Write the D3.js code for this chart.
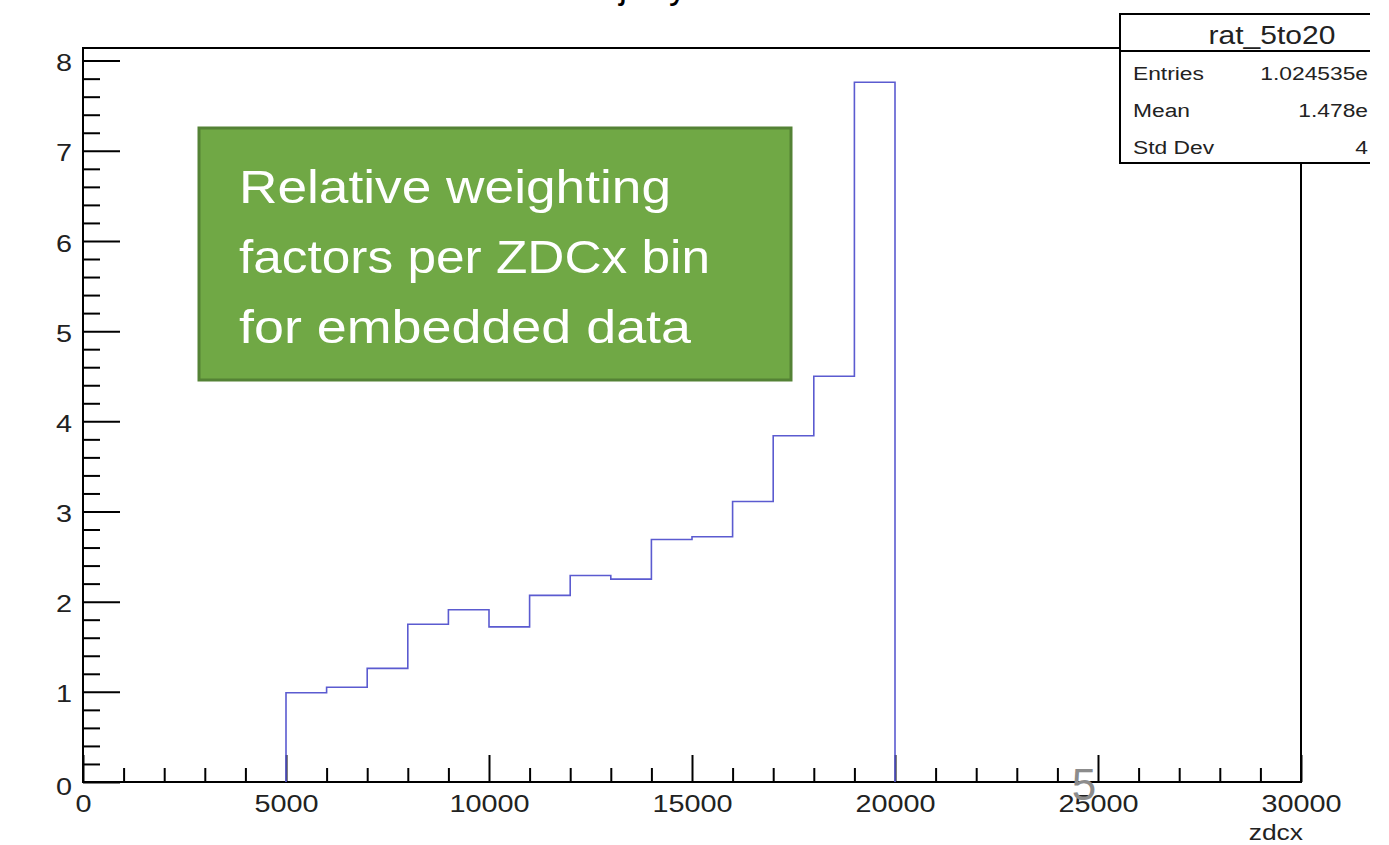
<!DOCTYPE html>
<html>
<head>
<meta charset="utf-8">
<script src="https://cdn.jsdelivr.net/npm/d3@7"></script>
<style>
  body { margin: 0; background: #fff; }
  text { font-family: "Liberation Sans", Helvetica, Arial, sans-serif; }
</style>
</head>
<body>
<svg id="chart" width="1389" height="845"></svg>
<script>
// histogram rat_5to20, bin width 1000 starting at 5000
const binLow = 5000, binWidth = 1000
const binValues = [0.99, 1.05, 1.26, 1.75, 1.91, 1.72, 2.07, 2.29, 2.25, 2.69, 2.72, 3.11, 3.84, 4.50, 7.76]
const xMajorTicks = [0, 5000, 10000, 15000, 20000, 25000, 30000]
const yMajorTicks = [0, 1, 2, 3, 4, 5, 6, 7, 8]
const statLabels = ["Entries", "Mean", "Std Dev"]
const statValues = ["1.024535e", "1.478e", "4"]
const noteLines = ["Relative weighting", "factors per ZDCx bin", "for embedded data"]
const noteWidths = [432, 471, 452]

const svg = d3.select("#chart")
const padL = 83, padR = 1301, padT = 48, padB = 782
const sx = 1.2  // the ROOT canvas is stretched sideways in the slide

// widen text around its own x anchor
function stretch(sel, k) {
  sel.attr("transform", function() {
    const ax = +this.getAttribute("x") || 0
    return `translate(${ax * (1 - k)},0) scale(${k},1)`
  })
}

const x = d3.scaleLinear().domain([0, 30000]).range([padL, padR])
const y = d3.scaleLinear().domain([0, 8.14]).range([padB, padT])

// cut-off title descenders at the very top
svg.append("text").attr("x", 619).attr("y", -2).attr("font-size", 36).text("j")
svg.append("text").attr("x", 669).attr("y", -2).attr("font-size", 36).text("y")

// frame
svg.append("rect")
    .attr("x", padL).attr("y", padT)
    .attr("width", padR - padL).attr("height", padB - padT)
    .attr("fill", "none").attr("stroke", "#000").attr("stroke-width", 2)

// minor ticks
const xMinor = d3.range(0, 30001, 1000).filter(d => d % 5000)
const yMinor = d3.range(0, 8.01, 0.2).filter(d => Math.abs(d - Math.round(d)) > 0.01)

svg.append("g").attr("transform", `translate(0,${padB})`)
    .call(d3.axisBottom(x).tickValues(xMinor).tickSize(-14).tickFormat(""))
    .call(g => g.select(".domain").remove())
    .call(g => g.selectAll("line").attr("stroke-width", 2))
svg.append("g").attr("transform", `translate(0,${padB})`)
    .call(d3.axisBottom(x).tickValues(xMajorTicks).tickSize(-27).tickPadding(13).tickFormat(d3.format("d")))
    .call(g => g.select(".domain").remove())
    .call(g => g.selectAll("line").attr("stroke-width", 2))
    .call(g => g.selectAll("text").attr("font-size", 24).attr("fill", "#222")
        .attr("font-family", "'Liberation Sans', sans-serif").call(stretch, sx))

svg.append("g").attr("transform", `translate(${padL},0)`)
    .call(d3.axisLeft(y).tickValues(yMinor).tickSize(-17).tickFormat(""))
    .call(g => g.select(".domain").remove())
    .call(g => g.selectAll("line").attr("stroke-width", 2))
svg.append("g").attr("transform", `translate(${padL},0)`)
    .call(d3.axisLeft(y).tickValues(yMajorTicks).tickSize(-37).tickPadding(11).tickFormat(d3.format("d")))
    .call(g => g.select(".domain").remove())
    .call(g => g.selectAll("line").attr("stroke-width", 2))
    .call(g => g.selectAll("text").attr("font-size", 24).attr("fill", "#222").attr("dy", "0.42em")
        .attr("font-family", "'Liberation Sans', sans-serif").call(stretch, sx))
    .call(g => g.selectAll(".tick").filter(d => d === 0).select("text").attr("dy", "0.5em"))

// histogram outline
const pts = [[binLow, 0]]
binValues.forEach((v, i) => pts.push([binLow + i * binWidth, v]))
pts.push([binLow + binValues.length * binWidth, binValues[binValues.length - 1]])
pts.push([binLow + binValues.length * binWidth, 0])

svg.append("path")
    .attr("d", d3.line().x(d => x(d[0])).y(d => y(d[1])).curve(d3.curveStepAfter)(pts))
    .attr("fill", "none").attr("stroke", "#5b5bd0").attr("stroke-width", 1.6)

// axis title
svg.append("text").attr("x", 1303).attr("y", 840).attr("text-anchor", "end")
    .attr("font-size", 22).attr("fill", "#222").text("zdcx").call(stretch, sx)

// stats box
const sb = svg.append("g")
sb.append("rect").attr("x", 1120).attr("y", 14).attr("width", 300).attr("height", 149)
    .attr("fill", "#fff").attr("stroke", "#000").attr("stroke-width", 2)
sb.append("line").attr("x1", 1120).attr("x2", 1389).attr("y1", 51).attr("y2", 51)
    .attr("stroke", "#000").attr("stroke-width", 2)
sb.append("text").attr("x", 1272).attr("y", 44).attr("text-anchor", "middle")
    .attr("font-size", 25).attr("fill", "#222").text("rat_5to20").call(stretch, sx)
statLabels.forEach((s, i) => {
  sb.append("text").attr("x", 1133).attr("y", 80 + i * 37).attr("font-size", 19)
      .attr("fill", "#222").text(s).call(stretch, sx)
  sb.append("text").attr("x", 1368).attr("y", 80 + i * 37).attr("text-anchor", "end")
      .attr("font-size", 19).attr("fill", "#222").text(statValues[i]).call(stretch, sx)
})
// page cut at the right edge
svg.append("rect").attr("x", 1370).attr("y", 0).attr("width", 19).attr("height", 845).attr("fill", "#fff")

// green annotation box
svg.append("rect").attr("x", 199).attr("y", 128).attr("width", 592).attr("height", 252)
    .attr("fill", "#70a845").attr("stroke", "#548235").attr("stroke-width", 3)
noteLines.forEach((t, i) => {
  svg.append("text").attr("x", 239).attr("y", 203 + i * 70)
      .attr("font-family", "'Open Sans', Lato, sans-serif")
      .attr("font-size", 46).attr("fill", "#fff")
      .attr("textLength", noteWidths[i]).attr("lengthAdjust", "spacingAndGlyphs")
      .text(t)
})

// slide page number overlay
svg.append("text").attr("x", 1084).attr("y", 800).attr("text-anchor", "middle")
    .attr("font-family", "Lato, sans-serif").attr("font-size", 44).attr("font-weight", 300)
    .attr("fill", "#8c8c8c").text("5")
</script>
</body>
</html>
